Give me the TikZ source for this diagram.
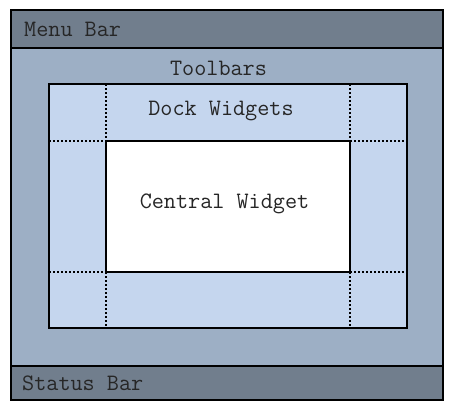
\documentclass[tikz,border=0pt]{standalone}
\usepackage{fontspec}
\definecolor{barcol}{HTML}{717E8D}
\definecolor{toolcol}{HTML}{9DAFC5}
\definecolor{dockcol}{HTML}{C5D6EE}
\begin{document}
\begin{tikzpicture}[x=1pt,y=-1pt,
  area/.style={draw=black, line width=2pt, anchor=north west, inner sep=0pt, outer sep=0pt},
  lbl/.style={font=\ttfamily\fontsize{23.5}{25}\selectfont, text=black!85, inner sep=0pt},
  dots/.style={line width=2pt, dash pattern=on 2pt off 2pt}]
\useasboundingbox (0,0) rectangle (461,416);
\node[area, fill=toolcol, minimum width=432pt, minimum height=390pt] (frame) at (11,10) {};
\node[area, fill=barcol, minimum width=432pt, minimum height=37.5pt] (menubar) at (11,10) {};
\node[area, fill=barcol, minimum width=432pt, minimum height=34pt] (statusbar) at (11,366) {};
\node[area, fill=dockcol, minimum width=358pt, minimum height=244pt] (dock) at (49,84) {};
\node[area, fill=white, minimum width=244pt, minimum height=131pt] (central) at (106,141) {};
\draw[dots] (central.north west |- dock.north) -- (central.north west);
\draw[dots] (central.north east |- dock.north) -- (central.north east);
\draw[dots] (central.south west) -- (central.south west |- dock.south);
\draw[dots] (central.south east) -- (central.south east |- dock.south);
\draw[dots] (dock.west |- central.north west) -- (central.north west);
\draw[dots] (central.north east) -- (dock.east |- central.north east);
\draw[dots] (dock.west |- central.south west) -- (central.south west);
\draw[dots] (central.south east) -- (dock.east |- central.south east);
\node[lbl, anchor=west] (menutext) at (24,29) {Menu Bar};
\node[lbl] (tooltext) at (218.5,68) {Toolbars};
\node[lbl] (docktext) at (221,111) {Dock Widgets};
\node[lbl] (centraltext) at (224.5,204) {Central Widget};
\node[lbl, anchor=west] (statustext) at (22,383) {Status Bar};
\end{tikzpicture}
\end{document}
